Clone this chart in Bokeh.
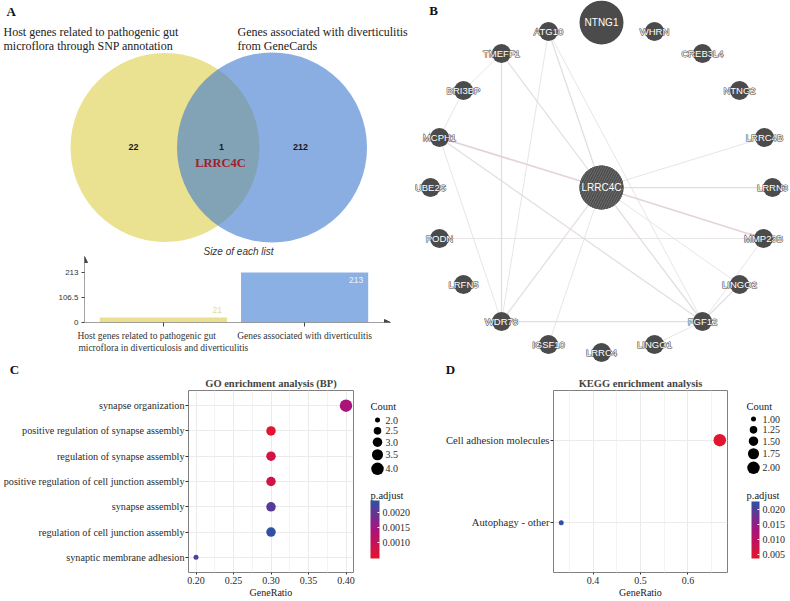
import math
from bokeh.plotting import figure
from bokeh.layouts import row, column
from bokeh.models import (Range1d, FixedTicker, ColorBar, LinearColorMapper, Arrow,
                          NormalHead, ColumnDataSource, PrintfTickFormatter)
from bokeh.transform import transform
from bokeh.core.properties import value
from bokeh.embed import file_html
from bokeh.resources import INLINE

SERIF = "Liberation Serif"
SANS = "Liberation Sans"

# ---------------- data ----------------
# Panel A : Venn
venn_sets = ["Host genes related to pathogenic gut\nmicroflora through SNP annotation",
             "Genes associated with diverticulitis\nfrom GeneCards"]
venn_counts = [22, 1, 212]          # left only, shared, right only
venn_shared = "LRRC4C"

# Panel A : size of each list
list_names = ["Host genes related to pathogenic gut\nmicroflora in diverticulosis and diverticulitis",
              "Genes associated with diverticulitis"]
list_sizes = [21, 213]
list_ticks = [0, 106.5, 213]

# Panel B : network (layout coordinates, LRRC4C at origin)
node_names = ["NTNG1", "ATG10", "WHRN", "TMEFF1", "CREB3L4", "BRI3BP", "NTNG2", "MCPH1",
              "LRRC4B", "UBE2S", "LRRC4C", "LRRN3", "PODN", "MMP23B", "LRFN5", "LINGO2",
              "WDR78", "FGF12", "IGSF10", "LINGO1", "LRRC4"]
node_x = [0, -53, 53, -100, 101, -138, 138, -162, 163, -171, 0, 171, -162, 162, -138, 138,
          -100, 101, -53, 53, 0]
node_y = [165, 156, 156, 134, 134, 97, 97, 50, 50, 0, 0, 0, -51, -51, -97, -97,
          -134, -134, -157, -157, -165]
node_big = [1, 0, 0, 0, 0, 0, 0, 0, 0, 0, 1, 0, 0, 0, 0, 0, 0, 0, 0, 0, 0]
edge_from = ["ATG10", "ATG10", "ATG10", "TMEFF1", "TMEFF1", "TMEFF1", "BRI3BP", "MCPH1",
             "MCPH1", "MCPH1", "LRRC4B", "LRRN3", "MMP23B", "PODN", "LRRC4C", "LRRC4C",
             "LRRC4C", "LRRC4C", "WDR78", "FGF12", "FGF12", "MMP23B"]
edge_to = ["LRRC4C", "WDR78", "FGF12", "LRRC4C", "WDR78", "BRI3BP", "MCPH1", "LRRC4C",
           "WDR78", "FGF12", "LRRC4C", "LRRC4C", "LRRC4C", "MMP23B", "WDR78", "IGSF10",
           "FGF12", "LINGO2", "FGF12", "LINGO2", "LINGO1", "FGF12"]
edge_weight = [2, 1, 1, 2, 2, 1, 1, 3, 1, 2, 1, 2, 3, 1, 2, 1, 2, 1, 2, 2, 1, 1]

# Panel C : GO enrichment (BP)
go_terms = ["synapse organization", "positive regulation of synapse assembly",
            "regulation of synapse assembly", "positive regulation of cell junction assembly",
            "synapse assembly", "regulation of cell junction assembly",
            "synaptic membrane adhesion"]
go_ratio = [0.40, 0.30, 0.30, 0.30, 0.30, 0.30, 0.20]
go_count = [4, 3, 3, 3, 3, 3, 2]
go_padj = [0.00140, 0.00047, 0.00075, 0.00078, 0.00210, 0.00240, 0.00212]
go_xticks = [0.20, 0.25, 0.30, 0.35, 0.40]
go_count_keys = [2.0, 2.5, 3.0, 3.5, 4.0]
go_padj_ticks = [0.0010, 0.0015, 0.0020]

# Panel D : KEGG enrichment
kegg_terms = ["Cell adhesion molecules", "Autophagy - other"]
kegg_ratio = [0.667, 0.333]
kegg_count = [2, 1]
kegg_padj = [0.0037, 0.0227]
kegg_xticks = [0.4, 0.5, 0.6]
kegg_count_keys = [1.00, 1.25, 1.50, 1.75, 2.00]
kegg_padj_ticks = [0.005, 0.010, 0.015, 0.020]

# ---------------- helpers ----------------
def interp_palette(anchors, n=256):
    out = []
    for i in range(n):
        t = i / (n - 1) * (len(anchors) - 1)
        k = min(int(t), len(anchors) - 2)
        f = t - k
        a, b = anchors[k], anchors[k + 1]
        rgb = [round(int(a[1 + 2 * j:3 + 2 * j], 16) * (1 - f) + int(b[1 + 2 * j:3 + 2 * j], 16) * f)
               for j in range(3)]
        out.append("#%02x%02x%02x" % tuple(rgb))
    return out

PALETTE = interp_palette(["#E3142D", "#A8137C", "#3050A3"])


def dot_diam(c, cmin, cmax):
    return math.sqrt(25 + (c - cmin) / (cmax - cmin) * 131)


def base_fig(**kw):
    return figure(output_backend="svg", toolbar_location=None, **kw)


def bare(p):
    p.outline_line_color = None
    p.grid.visible = False
    return p


def left_block(label, pad_char="\u00a0"):
    # pad shorter lines so that centred lines read as a left-aligned block
    lines = label.split("\n")
    longest = max(len(s) for s in lines)
    out = []
    for s in lines:
        extra = int(round((longest - len(s)) * 1.25)) if len(lines) > 1 else 0
        out.append(s + pad_char * extra)
    return "\n".join(out)

# ---------------- Panel A : Venn ----------------
venn = bare(base_fig(width=412, height=256, x_range=Range1d(0, 412), y_range=Range1d(256, 0),
                     x_axis_type=None, y_axis_type=None, min_border=0))
venn.circle(x=[164.5], y=[147], radius=94.5, fill_color="#EAE291", line_color=None)
venn.circle(x=[271.5], y=[147], radius=95, fill_color="#3C78CF", fill_alpha=0.6, line_color=None)
venn.text(x=[133, 221, 300], y=[146, 146, 146], text=[str(v) for v in venn_counts],
          text_font=value(SANS), text_font_style="bold", text_font_size="9px",
          text_color="#1A1A1A", text_align="center", text_baseline="middle")
venn.text(x=[220], y=[162], text=[venn_shared], text_font=value(SERIF), text_font_style="bold",
          text_font_size="12.5px", text_color="#A51D2A", text_align="center", text_baseline="middle")
for sx, name in zip([3, 237], venn_sets):
    lines = name.split("\n")
    venn.text(x=[sx] * len(lines), y=[31.5 + 13.5 * i for i in range(len(lines))], text=lines,
              text_font=value(SERIF), text_font_size="12px", text_color="#222222",
              text_align="left", text_baseline="middle")
venn.text(x=[6], y=[11], text=["A"], text_font=value(SERIF), text_font_style="bold",
          text_font_size="13px", text_color="#111111", text_align="left", text_baseline="middle")
venn.text(x=[238], y=[251], text=["Size of each list"], text_font=value(SANS),
          text_font_style="italic", text_font_size="10px", text_color="#333333",
          text_align="center", text_baseline="middle")

# ---------------- Panel A : bar chart ----------------
bx = [i + 0.5 for i in range(len(list_sizes))]
bar = bare(base_fig(width=412, height=106, x_range=Range1d(-0.058, 2.108), y_range=Range1d(0, 281),
                    min_border_left=84, min_border_right=22, min_border_top=0, min_border_bottom=40))
bar.vbar(x=bx, top=list_sizes, width=0.9, fill_color=["#E9DF8E", "#8BB0E4"], line_color=None)
inside = [v > 0.2 * max(list_sizes) for v in list_sizes]
bar.text(x=[v + 0.45 for v in bx], y=list_sizes, text=[str(v) for v in list_sizes],
         x_offset=-5, y_offset=[8 if i else -8 for i in inside],
         text_color=["#EEF2FA" if i else "#E3DA98" for i in inside],
         text_font=value(SANS), text_font_size="8.5px", text_align="right", text_baseline="middle")
bar.yaxis.ticker = FixedTicker(ticks=list_ticks)
bar.yaxis.major_label_overrides = {0: "0", 106.5: "106.5", 213: "213"}
bar.xaxis.ticker = FixedTicker(ticks=bx)
bar.xaxis.major_label_overrides = {bx[0]: left_block(list_names[0]), bx[1]: list_names[1]}
for ax in (bar.xaxis[0], bar.yaxis[0]):
    ax.axis_line_color = None
    ax.minor_tick_line_color = None
    ax.major_tick_in = 0
    ax.major_tick_line_color = "#444444"
    ax.major_label_text_color = "#333333"
bar.yaxis.major_tick_out = 3
bar.yaxis.major_label_standoff = 3
bar.yaxis.major_label_text_font = SANS
bar.yaxis.major_label_text_font_size = "8px"
bar.xaxis.major_tick_out = 4
bar.xaxis.major_label_standoff = 4
bar.xaxis.major_label_text_font = SERIF
bar.xaxis.major_label_text_font_size = "9.5px"
bar.add_layout(Arrow(end=NormalHead(size=6, fill_color="#444444", line_color="#444444"),
                     x_start=-0.058, y_start=0, x_end=2.108, y_end=0,
                     line_color="#444444", line_width=1))
bar.add_layout(Arrow(end=NormalHead(size=6, fill_color="#444444", line_color="#444444"),
                     x_start=-0.058, y_start=0, x_end=-0.058, y_end=281,
                     line_color="#444444", line_width=1))

# ---------------- Panel B : network ----------------
pos = {n: (x, y) for n, x, y in zip(node_names, node_x, node_y)}
net = bare(base_fig(width=378, height=362, x_range=Range1d(-189, 189), y_range=Range1d(-175, 187),
                    x_axis_type=None, y_axis_type=None, min_border=0))
pink = {("MCPH1", "LRRC4C"), ("MMP23B", "LRRC4C")}
net.segment(x0=[pos[a][0] for a in edge_from], y0=[pos[a][1] for a in edge_from],
            x1=[pos[b][0] for b in edge_to], y1=[pos[b][1] for b in edge_to],
            line_width=[0.8 + 0.45 * (w - 1) for w in edge_weight],
            line_color=["#E4D2DE" if (a, b) in pink else "#E2DDE2" for a, b in zip(edge_from, edge_to)])
net.scatter(x=node_x, y=node_y, size=[44 if b else 19 for b in node_big],
            fill_color="#4B4B4B", line_color=None)
hub = node_names.index("LRRC4C")
net.scatter(x=[node_x[hub]], y=[node_y[hub]], size=44, fill_color="#4B4B4B", line_color=None,
            hatch_pattern="/", hatch_color="#6E6E6E", hatch_scale=5, hatch_weight=1)
small = [i for i, b in enumerate(node_big) if not b]
big = [i for i, b in enumerate(node_big) if b]
sx_ = [node_x[i] for i in small]
sy_ = [node_y[i] for i in small]
st_ = [node_names[i] for i in small]
# halo: dark outlined layer first, then white letters on top
net.text(x=sx_, y=sy_, text=st_, text_color="#4B4B4B", text_outline_color="#4B4B4B",
         text_font=value(SANS), text_font_size="9.5px", text_align="center", text_baseline="middle")
net.text(x=sx_, y=sy_, text=st_, text_color="white",
         text_font=value(SANS), text_font_size="9.5px", text_align="center", text_baseline="middle")
net.text(x=[node_x[i] for i in big], y=[node_y[i] for i in big],
         text=[node_names[i] for i in big], text_color="white",
         text_font=value(SANS), text_font_size="10px", text_align="center", text_baseline="middle")
net.text(x=[-168], y=[177], text=["B"], text_font=value(SERIF), text_font_style="bold",
         text_font_size="13px", text_color="#111111", text_align="center", text_baseline="middle")

# ---------------- strip with panel tags C / D ----------------
strip = bare(base_fig(width=790, height=14, x_range=Range1d(0, 790), y_range=Range1d(376, 362),
                      x_axis_type=None, y_axis_type=None, min_border=0))
strip.text(x=[14, 450], y=[369, 369], text=["C", "D"], text_font=value(SERIF),
           text_font_style="bold", text_font_size="13px", text_color="#111111",
           text_align="center", text_baseline="middle")

# ---------------- Panels C / D : dot plots ----------------
ROW2_H = 224
BT, BB = 14, 25


def dot_plot(terms, ratio, count, padj, xr, yr, xticks, minor, fmt, title, width, bl, br, ysize):
    n = len(terms)
    ys = list(range(n, 0, -1))
    cmin, cmax = min(count), max(count)
    mapper = LinearColorMapper(palette=PALETTE, low=min(padj), high=max(padj))
    src = ColumnDataSource(dict(x=ratio, y=ys, padj=padj,
                                size=[dot_diam(c, cmin, cmax) for c in count]))
    p = base_fig(width=width, height=ROW2_H, x_range=Range1d(*xr), y_range=Range1d(*yr),
                 min_border_left=bl, min_border_right=br, min_border_top=BT, min_border_bottom=BB)
    p.scatter("x", "y", source=src, size="size", fill_color=transform("padj", mapper),
              line_color=None)
    p.outline_line_color = "#808080"
    p.outline_line_width = 1
    p.xaxis.ticker = FixedTicker(ticks=xticks, minor_ticks=minor)
    p.xaxis.formatter = PrintfTickFormatter(format=fmt)
    p.yaxis.ticker = FixedTicker(ticks=ys)
    p.yaxis.major_label_overrides = {y: t for y, t in zip(ys, terms)}
    for ax in (p.xaxis[0], p.yaxis[0]):
        ax.axis_line_color = None
        ax.minor_tick_line_color = None
        ax.major_tick_in = 0
        ax.major_tick_out = 3
        ax.major_tick_line_color = "#333333"
        ax.major_label_text_font = SERIF
        ax.major_label_text_color = "#2B2B2B"
        ax.major_label_standoff = 1
    p.xaxis.major_tick_out = 2
    p.xaxis.major_label_standoff = 0
    p.yaxis.major_label_text_font_size = ysize
    p.xaxis.major_label_text_font_size = "10px"
    p.xaxis.axis_label = "GeneRatio"
    p.xaxis.axis_label_text_font = SERIF
    p.xaxis.axis_label_text_font_style = "normal"
    p.xaxis.axis_label_text_font_size = "10px"
    p.xaxis.axis_label_text_color = "#1A1A1A"
    p.xaxis.axis_label_standoff = 0
    p.xgrid.grid_line_color = "#EBEBEB"
    p.xgrid.minor_grid_line_color = "#F3F3F3"
    p.ygrid.grid_line_color = "#EBEBEB"
    p.title.text = title
    p.title.align = "center"
    p.title.vertical_align = "top"
    p.title.text_font = SERIF
    p.title.text_font_style = "bold"
    p.title.text_font_size = "10.5px"
    p.title.standoff = 0
    return p, mapper


def legend_fig(x_left, width, keys, key_fmt, cmin, cmax, mapper, pticks, pfmt,
               title_x, dot_x, lab_x, y0, cb_x, cb_w, cb_h):
    f = bare(base_fig(width=width, height=ROW2_H, x_range=Range1d(x_left, x_left + width),
                      y_range=Range1d(601 - BB, 601 - ROW2_H + BT), x_axis_type=None,
                      y_axis_type=None, min_border_left=0, min_border_right=0,
                      min_border_top=BT, min_border_bottom=BB))
    d = [dot_diam(k, cmin, cmax) for k in keys]
    h = [max(11, v + 2.5) for v in d]
    ys = [y0]
    for i in range(1, len(keys)):
        ys.append(ys[-1] + (h[i - 1] + h[i]) / 2)
    f.text(x=[title_x, title_x], y=[407, 498], text=["Count", "p.adjust"], text_font=value(SERIF),
           text_font_size="10.5px", text_color="#1A1A1A", text_align="left", text_baseline="middle")
    f.scatter(x=[dot_x] * len(keys), y=ys, size=d, fill_color="black", line_color=None)
    f.text(x=[lab_x] * len(keys), y=ys, text=[key_fmt % k for k in keys], text_font=value(SERIF),
           text_font_size="10px", text_color="#2B2B2B", text_align="left", text_baseline="middle")
    cb = ColorBar(color_mapper=mapper, ticker=FixedTicker(ticks=pticks),
                  formatter=PrintfTickFormatter(format=pfmt), location=(cb_x - x_left, 14),
                  width=cb_w, height=cb_h, padding=0, margin=0, major_label_text_font=SERIF,
                  major_label_text_font_size="10px", major_label_text_color="#2B2B2B",
                  label_standoff=3, major_tick_line_color="white", major_tick_in=2,
                  major_tick_out=0, bar_line_color=None, border_line_color=None,
                  background_fill_color=None)
    f.add_layout(cb, "center")
    return f


pc, cmap_c = dot_plot(go_terms, go_ratio, go_count, go_padj, (0.19, 0.41), (0.4, 7.6),
                      go_xticks, [0.225, 0.275, 0.325, 0.375], "%.2f",
                      "GO enrichment analysis (BP)", 360, 188, 7, "10.2px")
lc = legend_fig(360, 55, go_count_keys, "%.1f", min(go_count), max(go_count), cmap_c,
                go_padj_ticks, "%.4f", 370, 377, 385, 421, 370, 9, 58)

pd_, cmap_d = dot_plot(kegg_terms, kegg_ratio, kegg_count, kegg_padj, (0.3167, 0.6833), (0.4, 2.6),
                       kegg_xticks, [0.35, 0.45, 0.55, 0.65], "%.1f",
                       "KEGG enrichment analysis", 320, 138, 8, "10.6px")
ld = legend_fig(735, 55, kegg_count_keys, "%.2f", min(kegg_count), max(kegg_count), cmap_d,
                kegg_padj_ticks, "%.3f", 746, 753, 762, 420, 751, 8, 57)

layout = column(row(column(row(venn), row(bar)), net), strip, row(pc, lc, pd_, ld))
open("out.html", "w").write(file_html(layout, INLINE))
